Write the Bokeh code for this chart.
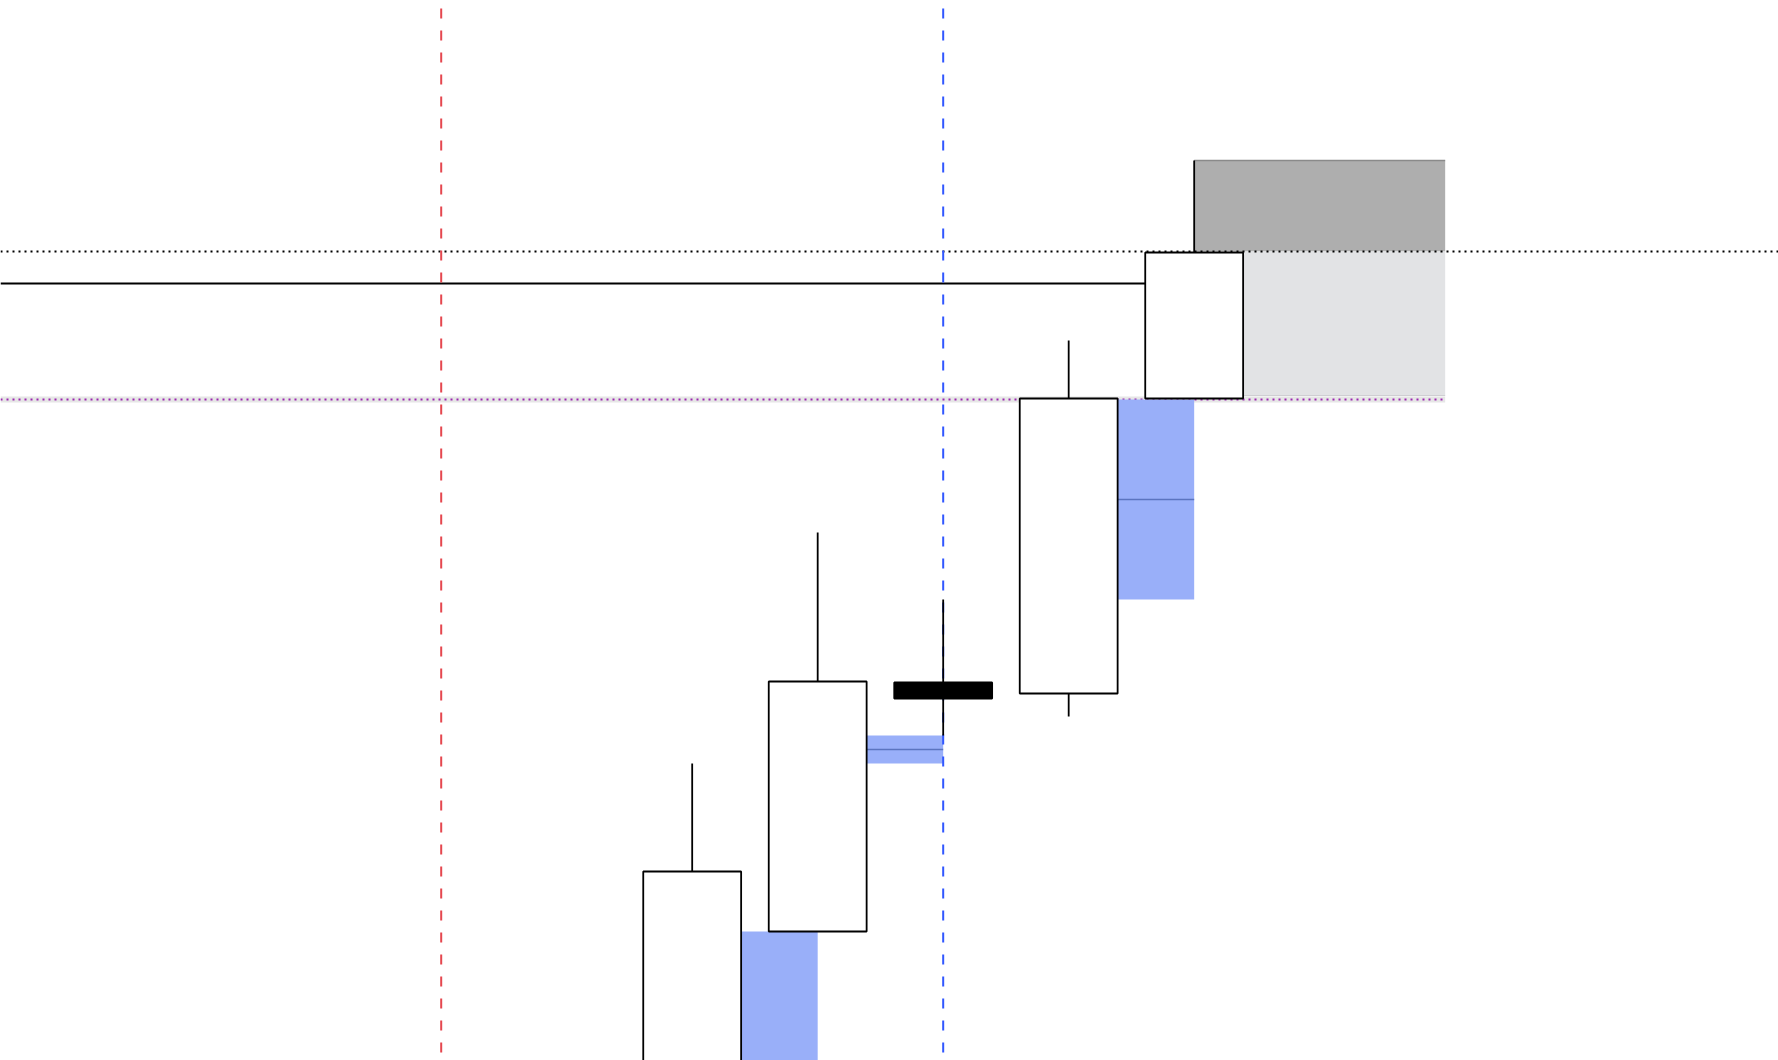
from bokeh.plotting import figure
from bokeh.models import Range1d
from bokeh.embed import file_html
from bokeh.resources import INLINE

# --- price bars (bar index, OHLC) ---
bar_index = [5, 6, 7, 8, 9]
opens = [97.00, 106.45, 118.90, 118.35, 133.10]
highs = [114.85, 126.40, 123.05, 136.00, 145.00]
lows = [96.00, 106.45, 116.25, 117.20, 133.10]
closes = [109.45, 118.95, 118.10, 133.10, 140.40]

# --- fair value gaps: middle bar index, gap bottom and top ---
fvg_bar = [5, 6, 8]
fvg_bottom = [92.00, 114.85, 123.05]
fvg_top = [106.45, 116.25, 133.05]

# --- horizontal levels ---
level_dotted = 140.45
level_solid = 138.85
level_purple = 133.05

# --- zone to the right of the last bar ---
zone_high = 145.00
zone_mid = 140.45
zone_low = 133.25
zone_end_bar = 11

# --- vertical session markers ---
marker_red_bar = 3
marker_blue_bar = 7

BODY_W = 0.78
X0, X1 = -0.5116, 13.656
Y0, Y1 = 100.0, 153.0

p = figure(width=1778, height=1060, output_backend="svg", toolbar_location=None,
           x_range=Range1d(X0, X1), y_range=Range1d(Y0, Y1),
           x_axis_location=None, y_axis_location=None, min_border=0)
p.grid.visible = False
p.outline_line_color = None
p.background_fill_color = "white"

last = bar_index[-1]
half = BODY_W / 2

# zone boxes
p.quad(left=[last], right=[zone_end_bar], bottom=[zone_mid], top=[zone_high],
       fill_color="#AEAEAE", line_color=None)
p.segment(x0=[last], x1=[zone_end_bar], y0=[zone_high], y1=[zone_high],
          line_color="#8A8A8A", line_width=1.5)
p.quad(left=[last + half], right=[zone_end_bar], bottom=[zone_low], top=[zone_mid],
       fill_color="#E2E3E5", line_color=None)
p.segment(x0=[last + half], x1=[zone_end_bar], y0=[zone_low], y1=[zone_low],
          line_color="#CFCFD2", line_width=1)

# light band under the purple level
p.quad(left=[X0], right=[zone_end_bar], bottom=[level_purple - 0.15], top=[level_purple + 0.15],
       fill_color="#E6E6E6", line_color=None)

# horizontal levels
p.segment(x0=[X0], x1=[X1], y0=[level_dotted], y1=[level_dotted],
          line_color="black", line_width=2, line_dash="2 4")
p.segment(x0=[X0], x1=[last - half], y0=[level_solid], y1=[level_solid],
          line_color="black", line_width=1.8)
p.segment(x0=[X0], x1=[zone_end_bar], y0=[level_purple], y1=[level_purple],
          line_color="#9C27B0", line_width=2, line_dash="2 4")

# fair value gaps
fl = [b + half for b in fvg_bar]
fr = [b + 1 for b in fvg_bar]
fmid = [(lo + hi) / 2 for lo, hi in zip(fvg_bottom, fvg_top)]
p.quad(left=fl, right=fr, bottom=fvg_bottom, top=fvg_top,
       fill_color="#99AFF9", line_color=None)
p.segment(x0=fl, x1=fr, y0=fmid, y1=fmid, line_color="#5B74C0", line_width=1.5)

# vertical markers
p.segment(x0=[marker_red_bar], x1=[marker_red_bar], y0=[Y1], y1=[Y0],
          line_color="#E5474F", line_width=2, line_dash="10 12", line_dash_offset=14)
p.segment(x0=[marker_blue_bar], x1=[marker_blue_bar], y0=[Y1], y1=[Y0],
          line_color="#3157FF", line_width=2, line_dash="10 12", line_dash_offset=14)

# candles
p.segment(x0=bar_index, x1=bar_index, y0=highs, y1=lows, line_color="black", line_width=1.8)
body_fill = ["white" if c >= o else "black" for o, c in zip(opens, closes)]
body_top = [max(o, c) for o, c in zip(opens, closes)]
body_bot = [min(o, c) for o, c in zip(opens, closes)]
p.quad(left=[b - half for b in bar_index], right=[b + half for b in bar_index],
       bottom=body_bot, top=body_top, fill_color=body_fill, line_color="black", line_width=1.8)

open("out.html", "w").write(file_html(p, INLINE))
